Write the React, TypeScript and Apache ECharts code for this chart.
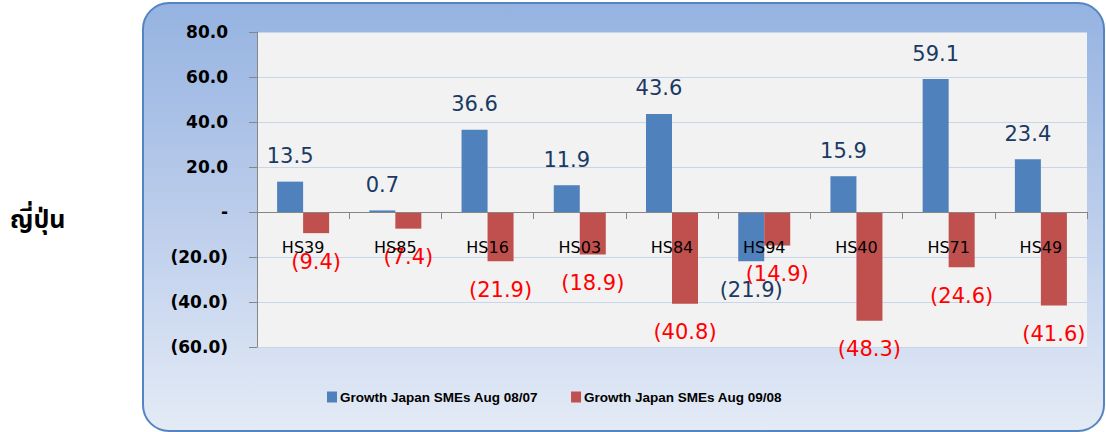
import React, { useEffect, useRef } from "react";
import * as echarts from "echarts";

const categories = ["HS39", "HS85", "HS16", "HS03", "HS84", "HS94", "HS40", "HS71", "HS49"];
const growth0807 = [13.5, 0.7, 36.6, 11.9, 43.6, -21.9, 15.9, 59.1, 23.4];
const growth0908 = [-9.4, -7.4, -21.9, -18.9, -40.8, -14.9, -48.3, -24.6, -41.6];
const seriesNames = ["Growth Japan SMEs Aug 08/07", "Growth Japan SMEs Aug 09/08"];
const sideTitle = "ญี่ปุ่น";
const yMin = -60;
const yMax = 80;
const yStep = 20;

const fmt = (v: number) => (v === 0 ? "-" : v < 0 ? "(" + Math.abs(v).toFixed(1) + ")" : v.toFixed(1));

export default function App() {
  const ref = useRef<HTMLDivElement>(null);
  useEffect(() => {
    document.body.style.margin = "0";
    const chart = echarts.init(ref.current!, null, { renderer: "svg" });
    const labelFont = "'DejaVu Sans', Verdana, sans-serif";
    const gridTop = 32;
    const gridBottom = 85;
    const plotH = 432 - gridTop - gridBottom;
    const zeroOffset = -(plotH * (0 - yMin)) / (yMax - yMin);
    const blueData = growth0807.map((v) => ({
      value: v,
      label: { position: v >= 0 ? "top" : "bottom", distance: v >= 0 ? 15 : 18 },
    }));
    chart.setOption({
      animation: false,
      graphic: [
        {
          type: "rect",
          z: -10,
          shape: { x: 143, y: 3, width: 961, height: 428, r: 26 },
          style: {
            fill: new echarts.graphic.LinearGradient(0, 0, 0, 1, [
              { offset: 0, color: "#95B3E1" },
              { offset: 0.5, color: "#BCCDEB" },
              { offset: 1, color: "#E4EBF6" },
            ]),
            stroke: "#5584C2",
            lineWidth: 2,
          },
        },
        {
          type: "text",
          left: 10,
          top: 207,
          style: {
            text: sideTitle,
            fontSize: 25,
            fontWeight: "bold",
            fill: "#000",
            fontFamily: "Tahoma, 'Noto Sans Thai', 'DejaVu Sans', sans-serif",
          },
        },
      ],
      grid: {
        left: 257,
        top: gridTop,
        right: 19,
        bottom: gridBottom,
        show: true,
        backgroundColor: "#F2F2F2",
        borderWidth: 0,
      },
      legend: {
        left: 322,
        top: 385,
        itemWidth: 10,
        itemHeight: 11,
        itemGap: 33,
        icon: "rect",
        textStyle: {
          fontSize: 13.5,
          fontWeight: "bold",
          color: "#000",
          fontFamily: "'Liberation Sans', Arial, sans-serif",
          padding: [0, 0, 0, -2],
        },
        data: seriesNames,
      },
      xAxis: {
        type: "category",
        data: categories,
        z: 5,
        offset: zeroOffset,
        axisLine: { onZero: false, lineStyle: { color: "#868686", width: 1 } },
        axisTick: { show: true, length: 7, lineStyle: { color: "#868686" } },
        axisLabel: {
          margin: 27,
          fontSize: 16,
          color: "#000",
          fontFamily: labelFont,
        },
        splitLine: { show: false },
      },
      yAxis: {
        type: "value",
        min: yMin,
        max: yMax,
        interval: yStep,
        axisLine: { show: true, lineStyle: { color: "#868686", width: 1 } },
        axisTick: { show: true, length: 8, lineStyle: { color: "#868686" } },
        axisLabel: {
          margin: 29,
          fontSize: 17,
          fontWeight: "bold",
          color: "#000",
          fontFamily: labelFont,
          formatter: (v: number) => fmt(v),
        },
        splitLine: { show: true, lineStyle: { color: "#C9D5E8", width: 1 } },
      },
      series: [
        {
          name: seriesNames[0],
          type: "bar",
          data: blueData,
          barGap: "0%",
          barCategoryGap: "43.6%",
          itemStyle: { color: "#4F81BD" },
          label: {
            show: true,
            fontSize: 21,
            color: "#1A3A64",
            fontFamily: labelFont,
            formatter: (p: any) => fmt(p.value),
          },
        },
        {
          name: seriesNames[1],
          type: "bar",
          data: growth0908,
          itemStyle: { color: "#C0504D" },
          label: {
            show: true,
            position: "bottom",
            distance: 18,
            fontSize: 21,
            color: "#FF0000",
            fontFamily: labelFont,
            formatter: (p: any) => fmt(p.value),
          },
        },
      ],
    });
    return () => chart.dispose();
  }, []);
  return <div ref={ref} style={{ width: 1106, height: 432 }} />;
}
